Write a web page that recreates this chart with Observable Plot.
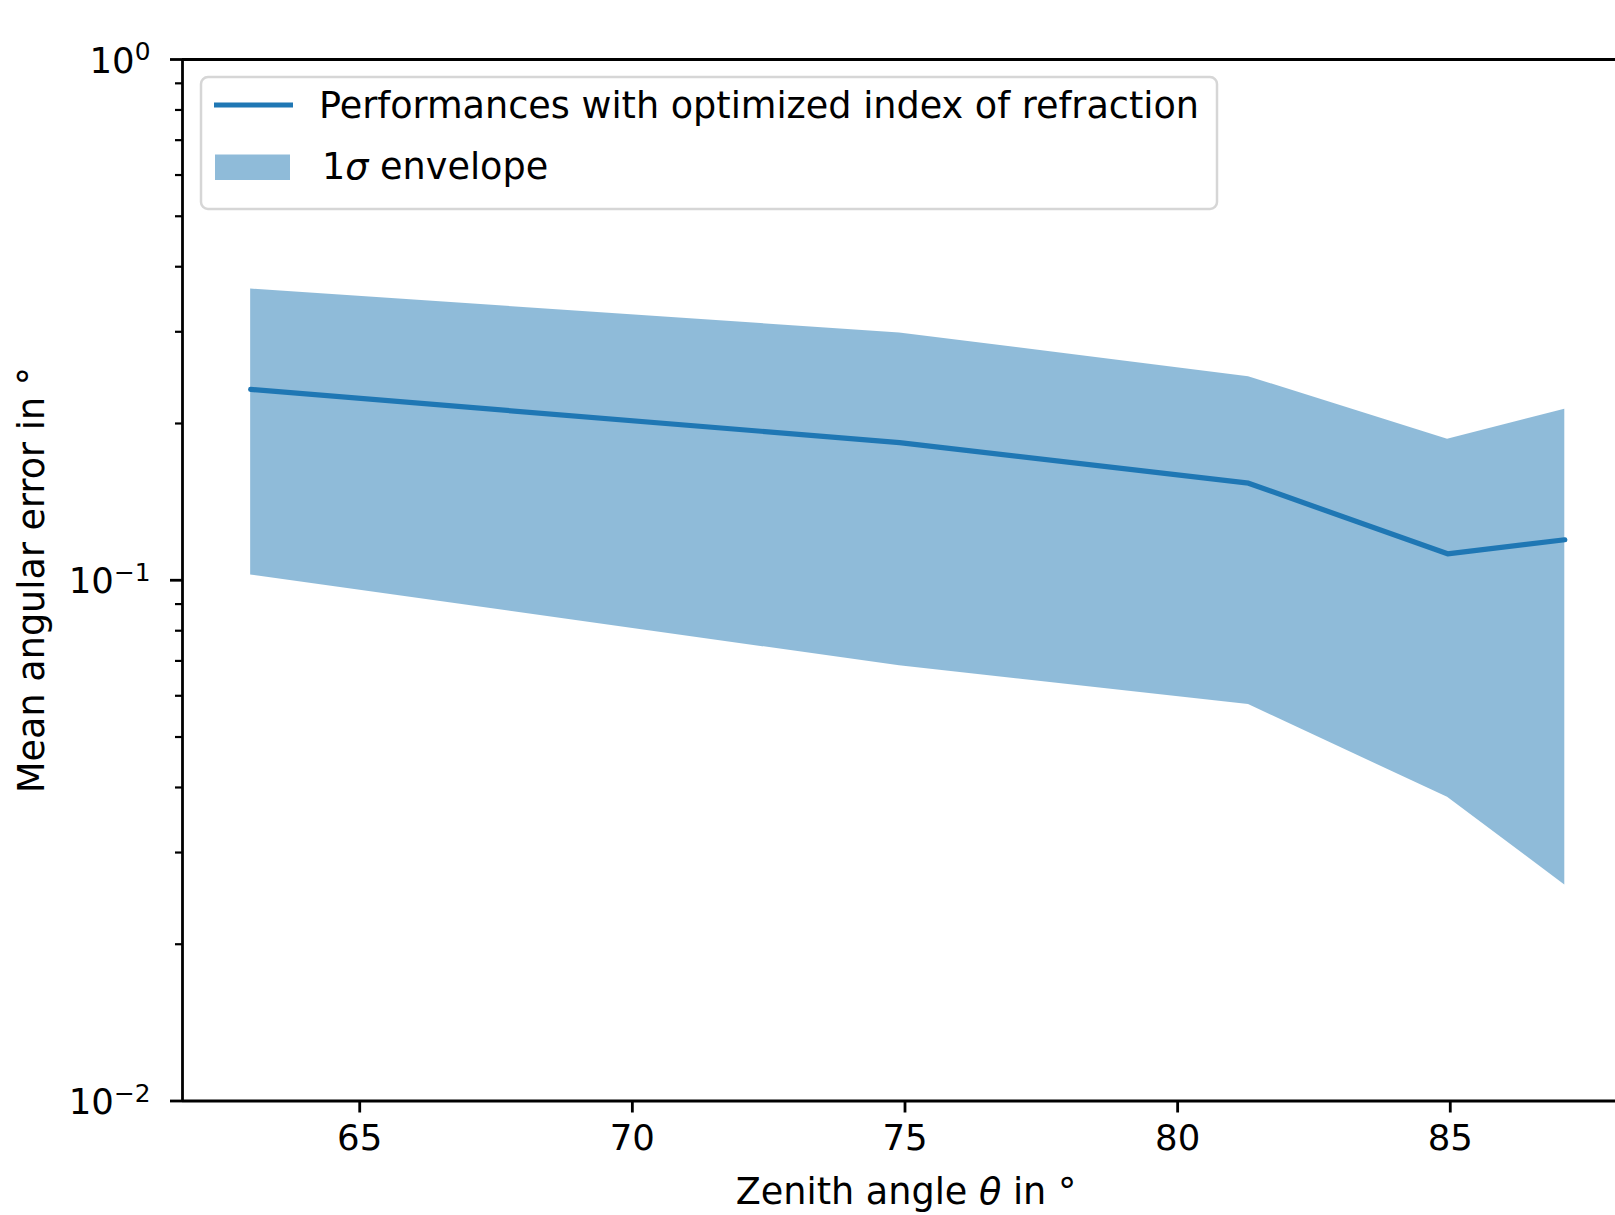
<!DOCTYPE html>
<html>
<head>
<meta charset="utf-8">
<script src="https://cdn.jsdelivr.net/npm/d3@7"></script>
<script src="https://cdn.jsdelivr.net/npm/@observablehq/plot@0.6"></script>
<style>
  html, body { margin: 0; padding: 0; background: #fff; }
  #chart svg { display: block; }
</style>
</head>
<body>
<div id="chart"></div>
<script>
// Data
const zenith = [63.0, 74.9, 81.3, 84.95, 87.1];
const meanError = [0.2325, 0.1838, 0.1536, 0.1124, 0.1196];
const upperSigma = [0.3625, 0.2985, 0.2460, 0.1866, 0.2131];
const lowerSigma = [0.1024, 0.0685, 0.0577, 0.0383, 0.0260];

const xTicks = [65, 70, 75, 80, 85];
const yMajorTicks = [0.01, 0.1, 1];
const yMinorTicks = [0.02,0.03,0.04,0.05,0.06,0.07,0.08,0.09,0.2,0.3,0.4,0.5,0.6,0.7,0.8,0.9];

const lineLabel = "Performances with optimized index of refraction";
const xLabel = "Zenith angle";
const yLabel = "Mean angular error in °";

const data = zenith.map((t, i) => ({theta: t, mean: meanError[i], hi: upperSigma[i], lo: lowerSigma[i]}));

const blue = "#1f77b4";
const W = 1615, H = 1215;
const mL = 182, mT = 59, mB = H - 1100.5;
const labelSize = 36.6;

const chart = Plot.plot({
  width: W,
  height: H,
  marginLeft: mL,
  marginRight: 0,
  marginTop: mT,
  marginBottom: mB,
  style: {fontFamily: "DejaVu Sans", fontSize: "35px", color: "#000", background: "#fff", overflow: "hidden"},
  x: {domain: [61.75, 88.03]},
  y: {type: "log", domain: [0.01, 1]},
  marks: [
    Plot.areaY(data, {x: "theta", y1: "lo", y2: "hi", fill: blue, fillOpacity: 0.5}),
    Plot.line(data, {x: "theta", y: "mean", stroke: blue, strokeWidth: 5.2, strokeLinecap: "round", strokeLinejoin: "round"}),
    Plot.axisX({ticks: xTicks, tickSize: 12, tickPadding: 12, strokeWidth: 2.8, fontSize: 35.5, label: null, tickFormat: d => String(d)}),
    Plot.axisY({ticks: yMajorTicks, tickSize: 12, tickPadding: 20, strokeWidth: 2.8, fontSize: 35.5, label: null,
      tickFormat: d => String(Math.round(Math.log10(d)))}),
    Plot.axisY({ticks: yMinorTicks, tickSize: 7, strokeWidth: 2.2, label: null, tickFormat: () => ""}),
    Plot.ruleX([61.75], {stroke: "#000", strokeWidth: 2.8}),
    Plot.ruleY([0.01, 1], {stroke: "#000", strokeWidth: 2.8})
  ]
});

document.getElementById("chart").appendChild(chart);

const svg = d3.select(chart);

// Turn y tick labels into 10^k with superscripts
svg.selectAll('g[aria-label="y-axis tick label"] text').each(function() {
  const t = d3.select(this);
  const e = t.text();
  if (e === "") return;
  t.text("");
  t.attr("dy", "0.05em");
  t.append("tspan").text("10");
  t.append("tspan").attr("dy", "-0.5em").attr("font-size", "0.7em").text(e.replace("-", "\u2212"));
});

// Axis labels
svg.append("text")
  .attr("transform", "translate(31,580) rotate(-90)")
  .attr("text-anchor", "middle")
  .attr("dominant-baseline", "central")
  .attr("font-family", "DejaVu Sans")
  .attr("font-size", labelSize)
  .attr("fill", "#000")
  .text(yLabel);

const xl = svg.append("text")
  .attr("x", 906).attr("y", 1191)
  .attr("text-anchor", "middle")
  .attr("dominant-baseline", "central")
  .attr("font-family", "DejaVu Sans")
  .attr("font-size", labelSize)
  .attr("fill", "#000");
xl.append("tspan").text(xLabel + " ");
xl.append("tspan").attr("font-style", "italic").text("θ");
xl.append("tspan").text(" in °");

// Legend
const lg = svg.append("g").attr("font-family", "DejaVu Sans").attr("font-size", labelSize).attr("fill", "#000")
  .attr("text-anchor", "start");
lg.append("rect").attr("x", 201).attr("y", 77).attr("width", 1016).attr("height", 132)
  .attr("rx", 7).attr("ry", 7).attr("fill", "#fff").attr("fill-opacity", 0.8)
  .attr("stroke", "#d6d6d6").attr("stroke-width", 2.5);
lg.append("line").attr("x1", 214).attr("x2", 293).attr("y1", 105).attr("y2", 105)
  .attr("stroke", blue).attr("stroke-width", 5.2);
lg.append("rect").attr("x", 215).attr("y", 154.5).attr("width", 75).attr("height", 25.5)
  .attr("fill", blue).attr("fill-opacity", 0.5);
lg.append("text").attr("x", 319).attr("y", 105).attr("text-anchor", "start")
  .attr("dominant-baseline", "central").text(lineLabel);
const t2 = lg.append("text").attr("x", 322).attr("y", 166).attr("text-anchor", "start")
  .attr("dominant-baseline", "central");
t2.append("tspan").text("1");
t2.append("tspan").attr("font-style", "italic").text("σ");
t2.append("tspan").text(" envelope");
</script>
</body>
</html>
